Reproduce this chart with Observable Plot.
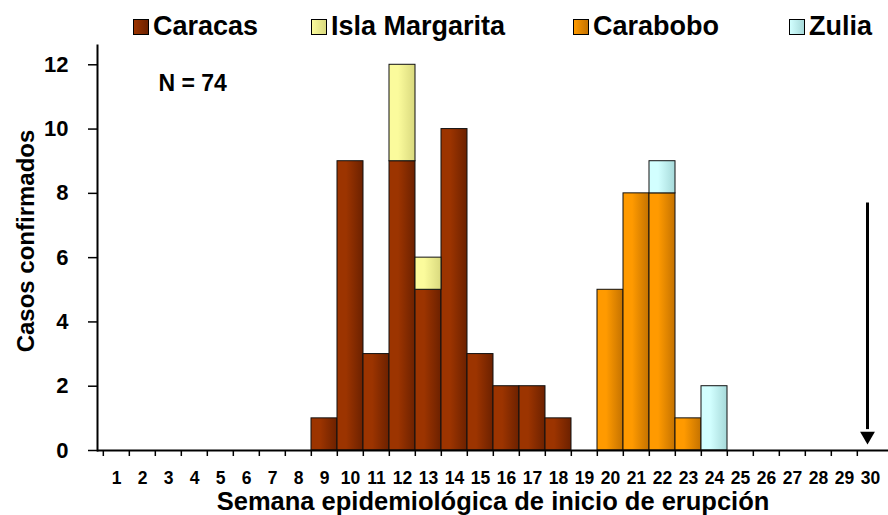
<!DOCTYPE html>
<html>
<head>
<meta charset="utf-8">
<script src="https://cdn.jsdelivr.net/npm/d3@7"></script>
<script src="https://cdn.jsdelivr.net/npm/@observablehq/plot@0.6"></script>
<style>
  body { margin: 0; background: #fff; font-family: "Liberation Sans", Arial, sans-serif; font-weight: bold; }
  #legend { position: relative; width: 888px; height: 40px; }
  #legend .sq { position: absolute; top: 19px; width: 14px; height: 14px; border: 1px solid #000; }
  #legend .lb { position: absolute; top: 13px; font-size: 27px; line-height: 27px; color: #000; white-space: nowrap; }
  svg { display: block; }
</style>
</head>
<body>
<div id="legend"></div>
<div id="chart"></div>
<script>
// ---- data ----
const weeks = [1,2,3,4,5,6,7,8,9,10,11,12,13,14,15,16,17,18,19,20,21,22,23,24,25,26,27,28,29,30];
const regions = ["Caracas", "Isla Margarita", "Carabobo", "Zulia"];
const caracas       = [0,0,0,0,0,0,0,0,1,9,3,9,5,10,3,2,2,1,0,0,0,0,0,0,0,0,0,0,0,0];
const islaMargarita = [0,0,0,0,0,0,0,0,0,0,0,3,1,0,0,0,0,0,0,0,0,0,0,0,0,0,0,0,0,0];
const carabobo      = [0,0,0,0,0,0,0,0,0,0,0,0,0,0,0,0,0,0,0,5,8,8,1,0,0,0,0,0,0,0];
const zulia         = [0,0,0,0,0,0,0,0,0,0,0,0,0,0,0,0,0,0,0,0,0,1,0,2,0,0,0,0,0,0];
const yTicks = [0, 2, 4, 6, 8, 10, 12];
const totalN = 74;
const arrowWeek = 30, arrowFrom = 7.7, arrowTo = 0.45;
const xLabel = "Semana epidemiológica de inicio de erupción";
const yLabel = "Casos confirmados";

// ---- styles ----
const gradStops = {
  "Caracas": ["#9c3400", "#6c2100"],
  "Isla Margarita": ["#fbfb9c", "#d9d97e"],
  "Carabobo": ["#ff9a00", "#c47200"],
  "Zulia": ["#d2ffff", "#a6d9d9"]
};
const gradIds = {"Caracas": "gCar", "Isla Margarita": "gIsla", "Carabobo": "gCarab", "Zulia": "gZul"};

const series = [caracas, islaMargarita, carabobo, zulia];
const rows = [];
regions.forEach((r, i) => weeks.forEach((w, j) => {
  if (series[i][j] > 0) rows.push({week: w, region: r, value: series[i][j]});
}));

// ---- legend ----
const legendPos = [133, 311, 573, 789];
const legend = document.getElementById("legend");
regions.forEach((r, i) => {
  const sq = document.createElement("div");
  sq.className = "sq";
  sq.style.left = legendPos[i] + "px";
  sq.style.background = `linear-gradient(to right, ${gradStops[r][0]}, ${gradStops[r][1]})`;
  legend.appendChild(sq);
  const lb = document.createElement("div");
  lb.className = "lb";
  lb.style.left = (legendPos[i] + 20) + "px";
  lb.textContent = r;
  legend.appendChild(lb);
});

// ---- chart ----
const font = "Liberation Sans, Arial, sans-serif";
const svg = Plot.plot({
  width: 888,
  height: 475,
  marginLeft: 97,
  marginRight: 0,
  marginTop: 5,
  marginBottom: 65,
  style: {fontFamily: font, fontWeight: "bold", color: "#000", background: "#fff", overflow: "visible"},
  x: {domain: weeks, padding: 0, axis: null},
  y: {domain: [0, 12.6], axis: null},
  color: {domain: regions, range: regions.map(r => `url(#${gradIds[r]})`)},
  marks: [
    Plot.barY(rows, {x: "week", y: "value", fill: "region", stroke: "#111", strokeWidth: 1}),
    Plot.ruleY([0], {stroke: "#000", strokeWidth: 2}),
    Plot.frame({anchor: "left", stroke: "#000", strokeWidth: 2}),
    // y axis
    Plot.axisY(yTicks, {anchor: "left", tickSize: 9, tickPadding: 20, fontSize: 22, stroke: "#000", strokeWidth: 1.5, label: null}),
    // x axis: ticks at category boundaries
    Plot.axisX(weeks, {anchor: "bottom", tickSize: 6, dx: -13.18, tickFormat: () => "", stroke: "#000", strokeWidth: 1.5, label: null}),
    // x axis labels centred in categories
    Plot.axisX(weeks, {anchor: "bottom", tickSize: 0, tickPadding: 21, fontSize: 17.5, label: null}),
    // axis titles
    Plot.text([xLabel], {frameAnchor: "bottom", textAnchor: "middle", dy: 59, lineAnchor: "bottom", fontSize: 25.5, fontWeight: "bold", fill: "#000"}),
    Plot.text([yLabel], {frameAnchor: "left", textAnchor: "middle", rotate: -90, dx: -64, dy: -7, lineAnchor: "bottom", fontSize: 24, fontWeight: "bold", fill: "#000"}),
    // N annotation
    Plot.text([`N = ${totalN}`], {frameAnchor: "top-left", dx: 61, dy: 45, textAnchor: "start", lineAnchor: "bottom", fontSize: 23, fontWeight: "bold", fill: "#000"}),
    // arrow
    Plot.ruleX([arrowWeek], {x: d => d, y1: arrowFrom, y2: arrowTo + 0.2, dx: -3, stroke: "#000", strokeWidth: 3}),
    Plot.dot([arrowWeek], {x: d => d, y: arrowTo, dx: -3, symbol: "triangle", rotate: 180, r: 5.5, fill: "#000", stroke: "none"})
  ]
});

const defs = d3.select(svg).insert("defs", ":first-child");
regions.forEach(r => {
  const g = defs.append("linearGradient").attr("id", gradIds[r]).attr("x1", 0).attr("x2", 1).attr("y1", 0).attr("y2", 0);
  g.append("stop").attr("offset", "0%").attr("stop-color", gradStops[r][0]);
  g.append("stop").attr("offset", "35%").attr("stop-color", gradStops[r][0]);
  g.append("stop").attr("offset", "100%").attr("stop-color", gradStops[r][1]);
});
document.getElementById("chart").appendChild(svg);
</script>
</body>
</html>
